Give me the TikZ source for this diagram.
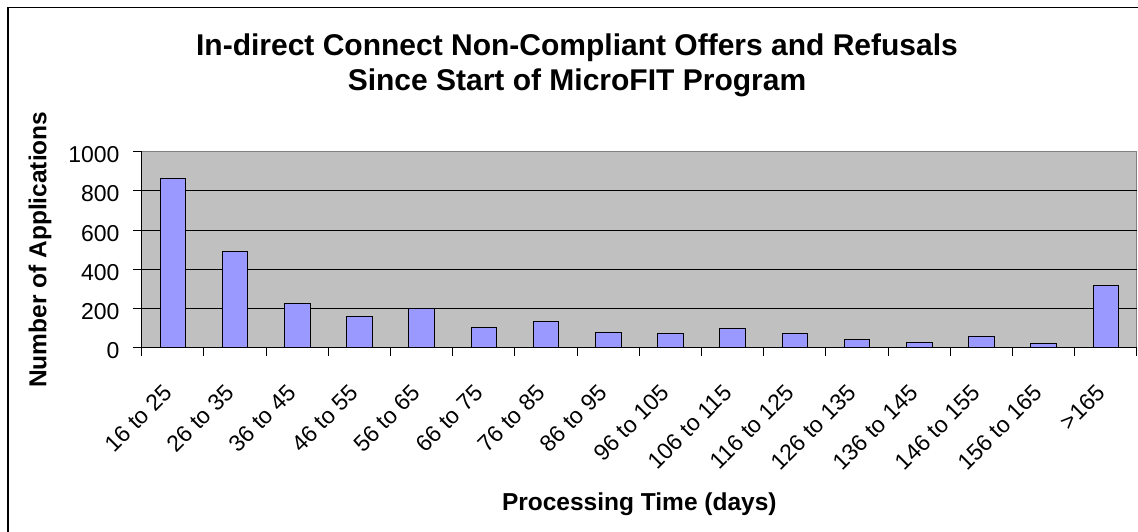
\documentclass[tikz,border=0pt]{standalone}
\usepackage{fontspec}
\setmainfont{Liberation Sans}
\tikzset{%
  bar/.style={draw=black,fill=barblue,line width=0.9pt},
  gridline/.style={black,line width=1pt},
  charttitle/.style={anchor=base,inner sep=0pt,font=\bfseries\fontsize{30}{35}\selectfont},
  axistitle/.style={inner sep=0pt,font=\bfseries\fontsize{24.5}{29}\selectfont},
  ticklab/.style={anchor=east,inner sep=0pt,font=\fontsize{23}{27}\selectfont},
  catlab/.style={anchor=east,rotate=45,inner sep=0pt,font=\fontsize{23}{27}\selectfont}
}
\definecolor{plotgray}{RGB}{192,192,192}
\definecolor{bordergray}{RGB}{128,128,128}
\definecolor{barblue}{RGB}{153,153,255}

\begin{document}
\begin{tikzpicture}[x=1pt,y=-1pt]
  \useasboundingbox (0,0) rectangle (1138,531);
  \clip (0,0) rectangle (1138,531);
  \draw[line width=1.2pt] (8,7.3) rectangle (1170,570);
  \node[charttitle] (tl1) at (577,55) {In-direct Connect Non-Compliant Offers and Refusals};
  \node[charttitle] (tl2) at (577,90) {Since Start of MicroFIT Program};
  \node[axistitle,rotate=90] (yt) at (40,249.7) {Number of Applications};
  \node[axistitle,anchor=base] (xt) at (639.3,510) {Processing Time (days)};
  \begin{scope}[shift={(141.7,347.7)},x=62.2pt,y=0.196pt]
    \filldraw[fill=plotgray,draw=bordergray,line width=1pt] (0,0) rectangle (16,1000);
    \draw[gridline] (0,200) -- (16,200);
    \draw[gridline] (0,400) -- (16,400);
    \draw[gridline] (0,600) -- (16,600);
    \draw[gridline] (0,800) -- (16,800);
    %%% bars
    \draw[bar] (0.295,0) rectangle (0.705,864);
    \draw[bar] (1.295,0) rectangle (1.705,493);
    \draw[bar] (2.295,0) rectangle (2.705,226);
    \draw[bar] (3.295,0) rectangle (3.705,158);
    \draw[bar] (4.295,0) rectangle (4.705,200);
    \draw[bar] (5.295,0) rectangle (5.705,104);
    \draw[bar] (6.295,0) rectangle (6.705,136);
    \draw[bar] (7.295,0) rectangle (7.705,78);
    \draw[bar] (8.295,0) rectangle (8.705,73);
    \draw[bar] (9.295,0) rectangle (9.705,99);
    \draw[bar] (10.295,0) rectangle (10.705,73);
    \draw[bar] (11.295,0) rectangle (11.705,43);
    \draw[bar] (12.295,0) rectangle (12.705,27);
    \draw[bar] (13.295,0) rectangle (13.705,58);
    \draw[bar] (14.295,0) rectangle (14.705,22);
    \draw[bar] (15.295,0) rectangle (15.705,320);
    %%% axes and ticks
    \draw[black,line width=1.2pt] (0,1000) -- (0,0) -- (16,0);
    \draw[black,line width=1pt] (0,0) -- ++(-9pt,0) (0,200) -- ++(-9pt,0)
      (0,400) -- ++(-9pt,0) (0,600) -- ++(-9pt,0) (0,800) -- ++(-9pt,0)
      (0,1000) -- ++(-9pt,0);
    \draw[black,line width=1pt] (0,0) -- ++(0,-8pt) (1,0) -- ++(0,-8pt)
      (2,0) -- ++(0,-8pt) (3,0) -- ++(0,-8pt) (4,0) -- ++(0,-8pt)
      (5,0) -- ++(0,-8pt) (6,0) -- ++(0,-8pt) (7,0) -- ++(0,-8pt)
      (8,0) -- ++(0,-8pt) (9,0) -- ++(0,-8pt) (10,0) -- ++(0,-8pt)
      (11,0) -- ++(0,-8pt) (12,0) -- ++(0,-8pt) (13,0) -- ++(0,-8pt)
      (14,0) -- ++(0,-8pt) (15,0) -- ++(0,-8pt) (16,0) -- ++(0,-8pt);
    %%% value labels
    \node[ticklab] (y0) at ([shift={(-22pt,-3pt)}]0,0) {0};
    \node[ticklab] (y200) at ([shift={(-22pt,-3pt)}]0,200) {200};
    \node[ticklab] (y400) at ([shift={(-22pt,-3pt)}]0,400) {400};
    \node[ticklab] (y600) at ([shift={(-22pt,-3pt)}]0,600) {600};
    \node[ticklab] (y800) at ([shift={(-22pt,-3pt)}]0,800) {800};
    \node[ticklab] (y1000) at ([shift={(-22pt,-3pt)}]0,1000) {1000};
    %%% category labels
    \node[catlab] (c1) at ([shift={(-5pt,-41pt)}]0.5,0) {16 to 25};
    \node[catlab] (c2) at ([shift={(-5pt,-41pt)}]1.5,0) {26 to 35};
    \node[catlab] (c3) at ([shift={(-5pt,-41pt)}]2.5,0) {36 to 45};
    \node[catlab] (c4) at ([shift={(-5pt,-41pt)}]3.5,0) {46 to 55};
    \node[catlab] (c5) at ([shift={(-5pt,-41pt)}]4.5,0) {56 to 65};
    \node[catlab] (c6) at ([shift={(-5pt,-41pt)}]5.5,0) {66 to 75};
    \node[catlab] (c7) at ([shift={(-5pt,-41pt)}]6.5,0) {76 to 85};
    \node[catlab] (c8) at ([shift={(-5pt,-41pt)}]7.5,0) {86 to 95};
    \node[catlab] (c9) at ([shift={(-5pt,-41pt)}]8.5,0) {96 to 105};
    \node[catlab] (c10) at ([shift={(-5pt,-41pt)}]9.5,0) {106 to 115};
    \node[catlab] (c11) at ([shift={(-5pt,-41pt)}]10.5,0) {116 to 125};
    \node[catlab] (c12) at ([shift={(-5pt,-41pt)}]11.5,0) {126 to 135};
    \node[catlab] (c13) at ([shift={(-5pt,-41pt)}]12.5,0) {136 to 145};
    \node[catlab] (c14) at ([shift={(-5pt,-41pt)}]13.5,0) {146 to 155};
    \node[catlab] (c15) at ([shift={(-5pt,-41pt)}]14.5,0) {156 to 165};
    \node[catlab] (c16) at ([shift={(-5pt,-41pt)}]15.5,0) {>165};
  \end{scope}
\end{tikzpicture}
\end{document}
